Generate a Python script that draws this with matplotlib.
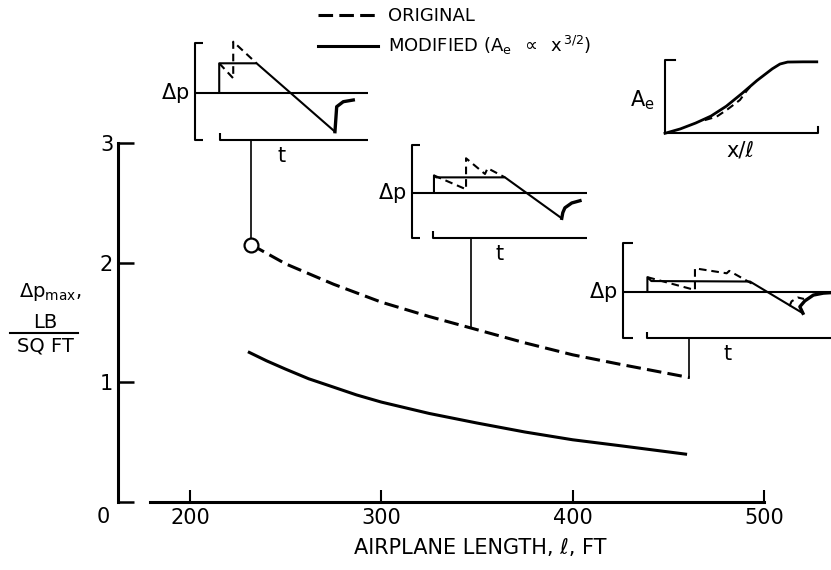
import numpy as np
import matplotlib
matplotlib.use("Agg")
import matplotlib.pyplot as plt
from matplotlib.lines import Line2D

plt.rcParams["font.family"] = ["DejaVu Sans"]
plt.rcParams["mathtext.default"] = "regular"
plt.rcParams["lines.scale_dashes"] = False

# ---------------------------------------------------------------
# Main curves: peak overpressure vs airplane length
# ---------------------------------------------------------------
LENGTH_ORIG = [232, 250, 275, 300, 325, 350, 375, 400, 425, 461]
DP_ORIG = [2.15, 1.99, 1.82, 1.67, 1.55, 1.44, 1.33, 1.23, 1.15, 1.04]
LENGTH_MOD = [231, 240, 250, 262, 275, 287, 300, 325, 350, 375, 400, 425, 459]
DP_MOD = [1.25, 1.18, 1.11, 1.03, 0.96, 0.895, 0.835, 0.74, 0.66, 0.585, 0.52, 0.47, 0.40]

X_TICKS = [200, 300, 400, 500]
Y_TICKS = [0, 1, 2, 3]
Y_TICK_LABELS = ["", "1", "2", "3"]

# airplane lengths the signature sketches point to
SKETCH_AT = [232, 347, 461]

# ---------------------------------------------------------------
# Pressure signature sketches (t, dp in sketch units)
# ---------------------------------------------------------------
SIG1_T_MOD = [0.140, 0.140, 0.356, 0.809]
SIG1_P_MOD = [0.0, 0.594, 0.594, -0.774]
SIG1_T_REC = [0.809, 0.819, 0.857, 0.915]
SIG1_P_REC = [-0.774, -0.274, -0.174, -0.14]
SIG1_T_ORIG = [0.140, 0.221, 0.221, 0.356]
SIG1_P_ORIG = [0.594, 0.294, 1.026, 0.594]

SIG2_T_MOD = [0.127, 0.127, 0.140, 0.532, 0.856]
SIG2_P_MOD = [0.0, 0.37, 0.33, 0.33, -0.518]
SIG2_T_REC = [0.856, 0.862, 0.874, 0.913, 0.96]
SIG2_P_REC = [-0.518, -0.40, -0.30, -0.20, -0.153]
SIG2_T_ORIG = [0.127, 0.310, 0.310, 0.418, 0.433, 0.532]
SIG2_P_ORIG = [0.37, 0.083, 0.725, 0.40, 0.52, 0.33]

SIG3_T_MOD = [0.116, 0.116, 0.135, 0.61, 0.865]
SIG3_P_MOD = [0.0, 0.30, 0.22, 0.21, -0.446]
SIG3_T_REC = [0.865, 0.85, 0.874, 0.915, 0.963, 1.0]
SIG3_P_REC = [-0.446, -0.31, -0.19, -0.07, -0.03, -0.02]
SIG3_T_ORIG = [0.116, 0.345, 0.345, 0.498, 0.51, 0.618]
SIG3_P_ORIG = [0.30, 0.035, 0.483, 0.38, 0.43, 0.17]
SIG3_T_ORIG_REC = [0.80, 0.81, 0.84, 0.87]
SIG3_P_ORIG_REC = [-0.30, -0.20, -0.12, -0.15]

# effective area distributions
AE_X = [0, 0.1, 0.2, 0.3, 0.4, 0.5, 0.6, 0.65, 0.7, 0.75, 0.8, 0.9, 0.99]
AE_MOD = [0, 0.06, 0.14, 0.235, 0.37, 0.54, 0.72, 0.80, 0.88, 0.945, 0.972, 0.975, 0.975]
AE_X_ORIG = [0.26, 0.337, 0.41, 0.489, 0.533, 0.56]
AE_ORIG = [0.18, 0.227, 0.33, 0.455, 0.58, 0.645]

# ---------------------------------------------------------------
# Layout (pixels of an 831 x 570 canvas)
# ---------------------------------------------------------------
W, H = 831, 570
FS = 15
LW_MAIN = 2.2
LW_SK = 1.5
DASH_MAIN = (0, (10.5, 4.5))
DASH_SK = (0, (5.5, 3.5))


def rect(left, right, top, bottom):
    return [left / W, 1 - bottom / H, (right - left) / W, (bottom - top) / H]


def fx(px):
    return px / W


def fy(py):
    return 1 - py / H


fig = plt.figure(figsize=(W / 100, H / 100), dpi=100)

# main axes: left edge = y axis line, x = 200 at 190 px, 500 at 764 px
px_per_ft = (764 - 190) / 300.0
x_left = 200 - (190 - 118) / px_per_ft
ax = fig.add_axes(rect(118, 764, 143, 502))
ax.set_xlim(x_left, 500)
ax.set_ylim(0, 3)

for s in ["top", "right"]:
    ax.spines[s].set_visible(False)
ax.spines["left"].set_linewidth(LW_MAIN)
ax.spines["bottom"].set_linewidth(LW_MAIN)
ax.spines["left"].set_bounds(0, 3)
ax.spines["bottom"].set_bounds(200 - (190 - 150) / px_per_ft, 500)

ax.set_xticks(X_TICKS)
ax.set_xticklabels([str(v) for v in X_TICKS])
ax.set_yticks(Y_TICKS)
ax.set_yticklabels(Y_TICK_LABELS)
ax.tick_params(axis="x", direction="in", length=8.6, width=1.5,
               labelsize=FS, pad=4)
ax.tick_params(axis="y", direction="in", length=11.5, width=1.8,
               labelsize=FS, pad=3.5)

ax.text(fx(103), fy(517), "0", transform=fig.transFigure, fontsize=FS,
        ha="center", va="center")

# curves
l_orig, = ax.plot(LENGTH_ORIG, DP_ORIG, color="black", lw=LW_MAIN,
                  linestyle=DASH_MAIN, clip_on=False)
l_mod, = ax.plot(LENGTH_MOD, DP_MOD, color="black", lw=LW_MAIN,
                 clip_on=False)
ax.plot(LENGTH_ORIG[0], DP_ORIG[0], "o", ms=10, mfc="white", mec="black",
        mew=1.6, zorder=5, clip_on=False)

# axis labels
fig.text(fx(480), fy(548), "AIRPLANE LENGTH, \u2113, FT", fontsize=FS,
         ha="center", va="center")
fig.text(fx(50), fy(292), r"$\Delta p_{max}$,", fontsize=14,
         ha="center", va="center")
fig.text(fx(45), fy(322), "LB", fontsize=14, ha="center", va="center")
fig.add_artist(Line2D([fx(10), fx(78)], [fy(333), fy(333)], color="black",
                      lw=1.5))
fig.text(fx(45), fy(346), "SQ FT", fontsize=14, ha="center", va="center")

# legend
fig.legend([l_orig, l_mod],
           ["ORIGINAL", r"MODIFIED $(A_e\;\;\propto\;\;x^{\,3/2})$"],
           loc="upper left", bbox_to_anchor=(fx(318), fy(7)),
           frameon=False, fontsize=13, borderpad=0, borderaxespad=0,
           handlelength=60 / 18.0, handletextpad=0.55, labelspacing=0.5)


# ---------------------------------------------------------------
# Signature sketches
# ---------------------------------------------------------------
def sketch(box, ylim, t_start, t_mod, p_mod, t_rec, p_rec, t_orig, p_orig,
           t_orec=None, p_orec=None):
    a = fig.add_axes(rect(*box))
    a.set_xlim(0, 1)
    a.set_ylim(*ylim)
    a.axis("off")
    lo, hi = ylim
    k = dict(color="black", lw=LW_SK, clip_on=False, solid_capstyle="butt")
    # bracket
    a.plot([0.045, 0, 0, 0.045], [hi, hi, lo, lo], **k)
    # zero line
    a.plot([0, 1], [0, 0], **k)
    # time axis
    serif = 0.07 * (hi - lo)
    a.plot([t_start, t_start, 1], [lo + serif, lo, lo], **k)
    a.plot(t_mod, p_mod, **k)
    a.plot(t_rec, p_rec, color="black", lw=2.4, clip_on=False)
    a.plot(t_orig, p_orig, color="black", lw=LW_SK, linestyle=DASH_SK,
           clip_on=False)
    if t_orec is not None:
        a.plot(t_orec, p_orec, color="black", lw=LW_SK, linestyle=DASH_SK,
               clip_on=False)
    a.text(-0.03, 0, r"$\Delta p$", fontsize=FS, ha="right", va="center",
           transform=a.get_yaxis_transform())
    a.text(0.5, -0.06, "t", fontsize=FS, ha="center", va="top",
           transform=a.transAxes)
    return a


sk1 = sketch((195, 368, 43, 140), (-0.94, 1.0), 0.145,
             SIG1_T_MOD, SIG1_P_MOD, SIG1_T_REC, SIG1_P_REC,
             SIG1_T_ORIG, SIG1_P_ORIG)
sk2 = sketch((411.7, 587, 145, 238), (-0.925, 1.0), 0.122,
             SIG2_T_MOD, SIG2_P_MOD, SIG2_T_REC, SIG2_P_REC,
             SIG2_T_ORIG, SIG2_P_ORIG)
sk3 = sketch((623.3, 831, 243.3, 338.3), (-0.963, 1.0), 0.114,
             SIG3_T_MOD, SIG3_P_MOD, SIG3_T_REC, SIG3_P_REC,
             SIG3_T_ORIG, SIG3_P_ORIG, SIG3_T_ORIG_REC, SIG3_P_ORIG_REC)

# leaders from each sketch down to the curve
for l_at, sk in zip(SKETCH_AT, [sk1, sk2, sk3]):
    y_top = ax.transData.inverted().transform(
        sk.transAxes.transform((0, 0)))[1]
    y_bot = np.interp(l_at, LENGTH_ORIG, DP_ORIG)
    ax.plot([l_at, l_at], [y_bot, y_top], color="black", lw=1.2,
            clip_on=False, zorder=1)

# effective area sketch
ae = fig.add_axes(rect(665, 818.3, 60, 133.3))
ae.set_xlim(0, 1)
ae.set_ylim(0, 1)
ae.axis("off")
k = dict(color="black", lw=LW_SK, clip_on=False)
ae.plot([0.065, 0, 0, 1, 1], [1, 1, 0, 0, 0.09], **k)
ae.plot(AE_X, AE_MOD, color="black", lw=2.0, clip_on=False)
ae.plot(AE_X_ORIG, AE_ORIG, color="black", lw=LW_SK, linestyle=DASH_SK,
        clip_on=False)
ae.text(-0.07, 0.45, r"$A_e$", fontsize=FS, ha="right", va="center",
        transform=ae.transAxes)
ae.text(0.49, -0.1, "x/\u2113", fontsize=FS, ha="center", va="top",
        transform=ae.transAxes)

fig.savefig("out.png", dpi=100)
